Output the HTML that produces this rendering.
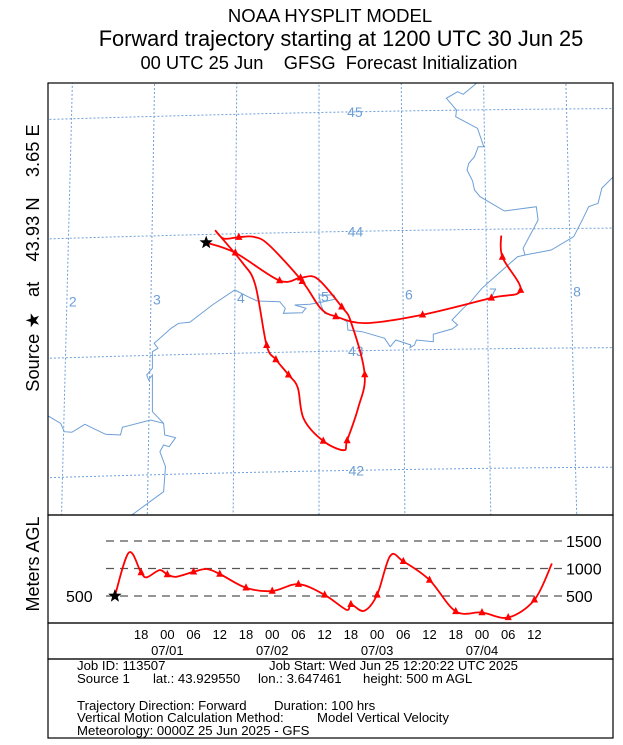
<!DOCTYPE html>
<html><head><meta charset="utf-8"><style>
body{margin:0;background:#fff;width:623px;height:745px;overflow:hidden;font-family:"Liberation Sans",sans-serif}
svg{display:block}
</style></head><body>
<svg id="c" width="623" height="745" xmlns="http://www.w3.org/2000/svg" font-family="Liberation Sans, sans-serif">
<text x="330" y="22" font-size="18.5" text-anchor="middle">NOAA HYSPLIT MODEL</text>
<text x="341" y="46" font-size="21.8" text-anchor="middle">Forward trajectory starting at 1200 UTC 30 Jun 25</text>
<text x="329" y="69" font-size="18.3" text-anchor="middle" xml:space="preserve">00 UTC 25 Jun    GFSG  Forecast Initialization</text>
<text transform="translate(39,258) rotate(-90)" font-size="18.3" text-anchor="middle" xml:space="preserve">Source ★   at    43.93 N    3.65 E</text>
<text transform="translate(39,564) rotate(-90)" font-size="18" text-anchor="middle">Meters AGL</text>
<defs><clipPath id="mapclip"><rect x="48" y="83" width="565" height="432"/></clipPath></defs>
<g id="map" clip-path="url(#mapclip)"></g>
<rect x="48" y="83" width="565" height="432" fill="none" stroke="#000" stroke-width="1.2"/>
<g id="prof"></g>
<rect x="48" y="515" width="565" height="108" fill="none" stroke="#000" stroke-width="1.2"/>
<rect x="48" y="623" width="565" height="36" fill="none" stroke="#000" stroke-width="1.2"/>
<rect x="48" y="659" width="565" height="79" fill="none" stroke="#000" stroke-width="1.2"/>
<g font-size="13.2">
<text x="77" y="670">Job ID: 113507</text>
<text x="269" y="670">Job Start: Wed Jun 25 12:20:22 UTC 2025</text>
<text x="77" y="683">Source 1</text>
<text x="153" y="683">lat.: 43.929550</text>
<text x="258" y="683">lon.: 3.647461</text>
<text x="363" y="683">height: 500 m AGL</text>
<text x="77" y="710">Trajectory Direction: Forward</text>
<text x="274" y="710">Duration: 100 hrs</text>
<text x="77" y="722">Vertical Motion Calculation Method:</text>
<text x="317" y="722">Model Vertical Velocity</text>
<text x="77" y="735">Meteorology: 0000Z 25 Jun 2025 - GFS</text>
</g>
</svg>
<script>
// ---- map trajectory data (lon/lat) ----
const trajLon=[3.65,4.00,4.53,4.78,4.98,5.27,5.38,5.54,5.46,5.33,5.29,5.05,4.82,4.75,4.64,4.49,4.38,4.24,4.08,3.77,3.86,4.04,4.22,4.40,4.80,5.02,5.20,5.56,6.23,7.05,7.40,7.19,7.18];
const trajLat=[43.93,43.84,43.60,43.62,43.61,43.37,43.24,42.80,42.52,42.25,42.17,42.25,42.44,42.70,42.81,42.94,43.06,43.57,43.76,44.02,43.96,43.97,43.97,43.90,43.59,43.36,43.29,43.23,43.29,43.42,43.48,43.76,43.94];
const markerIdx=[1,2,3,5,7,9,11,14,15,16,21,24,26,28,29,30,31];
const gridLons=[2,3,4,5,6,7,8];
const gridLats=[42,43,44,45];
// ---- vertical profile data ----
const hours=[0,3.2,6,7.3,10.2,12,14,18,21,24,30,36,42,48,53,54,57,60,63,66,72,78,84,90,96,100];
const heights=[500,1290,927,840,970,890,850,940,990,900,650,590,715,520,250,350,230,520,1230,1130,790,220,200,110,430,1090];
const tickHours=[6,12,18,24,30,36,42,48,54,60,66,72,78,84,90,96];
const tickLabels=["18","00","06","12","18","00","06","12","18","00","06","12","18","00","06","12"];
const dateLabels=["07/01","07/02","07/03","07/04"];
const dateHours=[12,36,60,84];
const levels=[500,1000,1500];

const NS="http://www.w3.org/2000/svg";
function mk(p,t,a){const e=document.createElementNS(NS,t);for(const k in a)e.setAttribute(k,a[k]);p.appendChild(e);return e;}
function P(lon,lat){return [319+(lon-5)*(84-(lat-43.5)*1.0), 232-(lat-44)*119.5-(lon-5)*1.64];}
function smooth(pts){let d="M"+pts[0][0].toFixed(1)+","+pts[0][1].toFixed(1);
 for(let i=0;i<pts.length-1;i++){const p0=pts[Math.max(0,i-1)],p1=pts[i],p2=pts[i+1],p3=pts[Math.min(pts.length-1,i+2)];
 const c1=[p1[0]+(p2[0]-p0[0])/6,p1[1]+(p2[1]-p0[1])/6],c2=[p2[0]-(p3[0]-p1[0])/6,p2[1]-(p3[1]-p1[1])/6];
 d+=" C"+c1[0].toFixed(1)+","+c1[1].toFixed(1)+" "+c2[0].toFixed(1)+","+c2[1].toFixed(1)+" "+p2[0].toFixed(1)+","+p2[1].toFixed(1);}return d;}
function tri(g,x,y,s,name){const t=mk(g,"polygon",{points:`${x},${y-s} ${x-s*0.8},${y+s*0.6} ${x+s*0.8},${y+s*0.6}`,fill:"#f00"});
 
 }
function star(g,x,y,r,name){let p=[];for(let i=0;i<10;i++){const a=-Math.PI/2+i*Math.PI/5,rr=i%2?r*0.42:r;p.push((x+rr*Math.cos(a)).toFixed(1)+","+(y+rr*Math.sin(a)).toFixed(1));}
 const s=mk(g,"polygon",{points:p.join(" "),fill:"#000"});
 
 }

const map=document.getElementById("map");
const GC="#6d9fd6";
const geo=[
[[245,1320],[330,1250],[335,1175],[320,1130],[330,1110],[345,1115],[362,1088],[333,1080],[330,1045],[300,1010],[300,900],[290,915],[285,900],[300,880],[300,830],[315,820],[305,805],[350,760],[370,745],[400,742],[460,690],[520,645],[555,665],[580,678],[640,680],[655,700],[650,715],[700,713],[710,700],[680,690],[720,688],[745,683],[790,672],[785,660],[745,660],[750,690],[760,715],[800,728],[820,740],[822,765],[860,770],[920,790],[935,815],[950,795],[990,810],[988,818],[1000,810],[1005,795],[1050,800],[1050,778],[1100,762],[1115,750],[1100,735],[1130,700],[1150,680],[1180,640],[1210,610],[1255,565],[1275,545],[1295,540],[1365,525],[1425,485],[1450,430],[1465,395],[1490,385],[1500,340],[1540,295],[1600,240]],
[[1295,540],[1290,520],[1330,435],[1325,395],[1240,408],[1175,365],[1160,345],[1155,318],[1140,285],[1145,265],[1160,245],[1170,215],[1185,215],[1168,160],[1110,125],[1112,105],[1085,70],[1115,50],[1130,58],[1160,30],[1185,0]],
[[0,1010],[25,1025],[55,1045],[65,1070],[85,1072],[120,1048],[175,1078],[215,1080],[220,1057],[295,1035],[330,1045]]];
geo.forEach((ln,i)=>{const e=mk(map,"polyline",{points:ln.map(p=>(40+p[0]/2.67).toFixed(1)+","+(75+p[1]/3).toFixed(1)).join(" "),fill:"none",stroke:GC,"stroke-width":1});
 
 });
gridLons.forEach(lon=>{let pts=[];for(let la=41.5;la<=45.8;la+=0.1)pts.push(P(lon,la));
 const e=mk(map,"polyline",{points:pts.map(p=>p[0].toFixed(1)+","+p[1].toFixed(1)).join(" "),fill:"none",stroke:GC,"stroke-width":1,"stroke-dasharray":"2,2"});
 
 
 const q=P(lon,43.47);const t=mk(map,"text",{x:q[0]+2,y:q[1]+6,"font-size":14,fill:GC});t.textContent=String(lon);
 
 });
gridLats.forEach(lat=>{let pts=[];for(let lo=1.2;lo<=8.8;lo+=0.1){const p=P(lo,lat);p[1]+=Math.pow(lo-5,2)*0.15;pts.push(p);}
 const e=mk(map,"polyline",{points:pts.map(p=>p[0].toFixed(1)+","+p[1].toFixed(1)).join(" "),fill:"none",stroke:GC,"stroke-width":1,"stroke-dasharray":"2,2"});
 
 
 const q=P(5.45,lat);const t=mk(map,"text",{x:q[0]-9,y:q[1]+5,"font-size":14,fill:GC});t.textContent=String(lat);
 
 });
const tp=trajLon.map((lo,i)=>P(lo,trajLat[i]));
const tl=mk(map,"path",{d:smooth(tp),fill:"none",stroke:"#f00","stroke-width":1.8});


markerIdx.forEach(i=>tri(map,tp[i][0],tp[i][1],4.5,'trajectory-marker'));
star(map,tp[0][0],tp[0][1],7,'source-star');

const prof=document.getElementById("prof");
const X=h=>114.9+h*4.37, Y=m=>596-(m-500)*0.055;
levels.forEach(l=>{const e=mk(prof,"line",{x1:106,x2:562,y1:Y(l),y2:Y(l),stroke:"#555","stroke-width":1.2,"stroke-dasharray":"8,6"});
 
 
 const t=mk(prof,"text",{x:566,y:Y(l)+6,"font-size":16});t.textContent=String(l);
 
 });
const lt=mk(prof,"text",{x:66,y:Y(500)+6,"font-size":16});lt.textContent="500";


const pp=hours.map((h,i)=>[X(h),Y(heights[i])]);
const pl=mk(prof,"path",{d:smooth(pp),fill:"none",stroke:"#f00","stroke-width":1.8});


hours.forEach((h,i)=>{if(h>0&&h%6===0)tri(prof,X(h),Y(heights[i]),4.5,'height-marker');});
star(prof,X(0),Y(heights[0]),7,'profile-start-star');
tickHours.forEach((h,i)=>{const t=mk(prof,"text",{x:X(h),y:639,"font-size":13,"text-anchor":"middle"});t.textContent=tickLabels[i];
 
 });
dateHours.forEach((h,i)=>{const t=mk(prof,"text",{x:X(h),y:655,"font-size":13,"text-anchor":"middle"});t.textContent=dateLabels[i];
 
 });
</script>
</body></html>
